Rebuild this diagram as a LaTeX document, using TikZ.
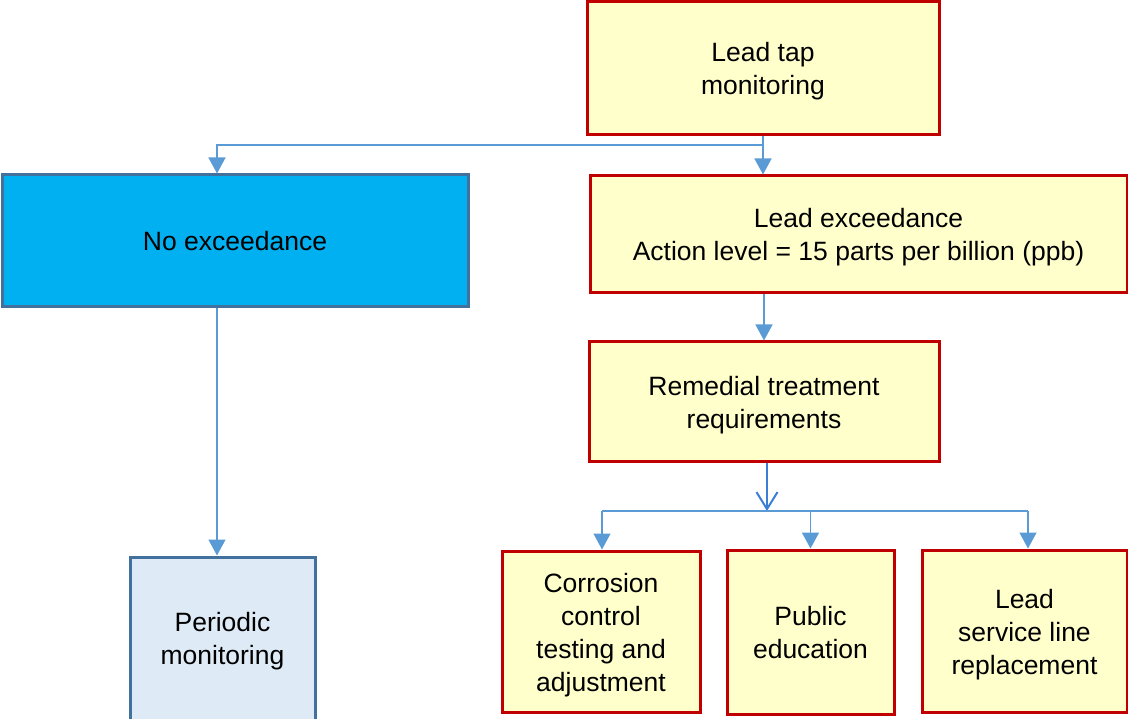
\documentclass[tikz,border=0pt]{standalone}
\usepackage{fontspec}
\setmainfont{Liberation Sans}
\usepackage{tikz}
\usetikzlibrary{arrows.meta}
\usetikzlibrary{calc}
\definecolor{boxyellow}{HTML}{FFFFCC}
\definecolor{boxred}{HTML}{C00000}
\definecolor{boxcyan}{HTML}{00B0F0}
\definecolor{boxpale}{HTML}{DEEBF7}
\definecolor{boxedge}{HTML}{41719C}
\definecolor{linkblue}{HTML}{5B9BD5}
\definecolor{openblue}{HTML}{3A7FD5}
\tikzset{
  stagebox/.style={draw=boxred, fill=boxyellow, line width=3pt, align=center, inner sep=0pt,
    font=\fontsize{26.5}{33}\selectfont},
  clearbox/.style={stagebox, draw=boxedge, fill=boxcyan},
  palebox/.style={stagebox, draw=boxedge, fill=boxpale},
  link/.style={draw=linkblue, line width=1.5pt, -{Triangle[width=17pt,length=16pt]}},
  plainlink/.style={draw=linkblue, line width=1.5pt},
  openlink/.style={draw=openblue, line width=2pt, -{Straight Barb[width=21pt,length=17pt]}}
}
\newcommand{\stagenode}[6]{\node[#1, minimum width=#4, minimum height=#5] (#2) at (#3) {\rule{0pt}{25.5pt}#6};}

\begin{document}
\begin{tikzpicture}[x=1pt,y=-1pt]
        \useasboundingbox (0,0) rectangle (1128,719);
        %boxes
        \stagenode{stagebox}{tap}{763,68.5}{352pt}{133pt}{Lead tap\\monitoring}
        \node[clearbox, minimum width=466pt, minimum height=132pt] (noex) at (235,241) {No exceedance};
        \stagenode{stagebox}{exc}{858.5,234.5}{537pt}{117pt}{Lead exceedance\\Action level = 15 parts per billion (ppb)}
        \stagenode{stagebox}{remed}{764,401.5}{350pt}{119pt}{Remedial treatment\\requirements\rule[-4pt]{0pt}{0pt}}
        \stagenode{stagebox}{corr}{601,631.5}{198pt}{161pt}{Corrosion\\control\\testing and\\adjustment}
        \stagenode{stagebox}{pub}{810.5,632}{167pt}{164pt}{Public\\education\rule[-5pt]{0pt}{0pt}}
        \stagenode{stagebox}{lsl}{1024.5,631}{205pt}{162pt}{Lead\\service line\\replacement}
        \stagenode{palebox}{peri}{222.5,643.5}{185pt}{173pt}{Periodic\\monitoring\rule[-17pt]{0pt}{0pt}}

        %first split
        \coordinate (splitA) at (763,145);
        \draw[plainlink] (tap.south) -- (splitA);
        \draw[link] (splitA) -- (splitA |- exc.north);
        \draw[link] (splitA) -| ([xshift=-18pt]noex.north);
        \draw[link] ([xshift=-18pt]noex.south) -- ([xshift=-18pt]noex.south |- peri.north);
        \draw[link] (remed.north |- exc.south) -- (remed.north);

        %second split
        \coordinate (splitB) at (767,511);
        \draw[openlink] (splitB |- remed.south) -- (splitB);
        \draw[plainlink] ([xshift=1pt]corr.north |- splitB) -- ([xshift=3.5pt]lsl.north |- splitB);
        \draw[link] ([xshift=1pt]corr.north |- splitB) -- ([xshift=1pt]corr.north);
        \draw[link] (pub.north |- splitB) -- (pub.north);
        \draw[link] ([xshift=3.5pt]lsl.north |- splitB) -- ([xshift=3.5pt]lsl.north);
\end{tikzpicture}
\end{document}
